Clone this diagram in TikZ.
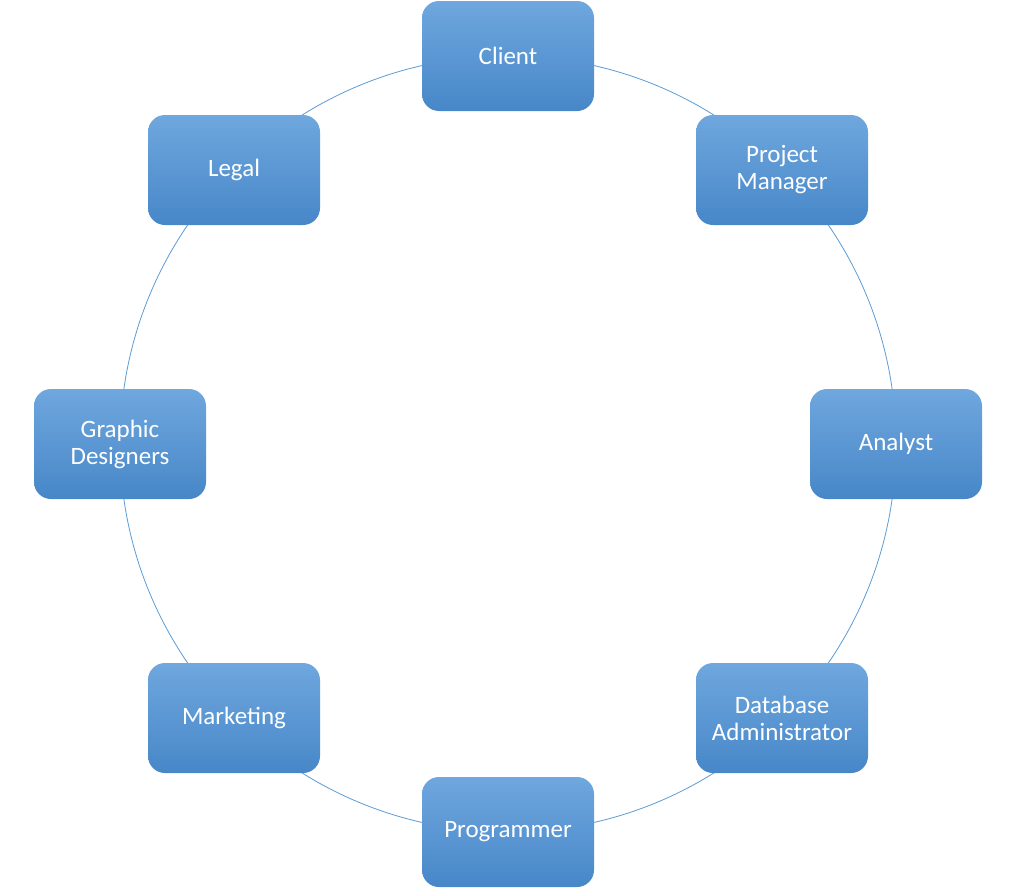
\documentclass[tikz,border=0pt]{standalone}
\usepackage{fontspec}
\setmainfont{Carlito}
\definecolor{boxtop}{HTML}{6FA7DE}
\definecolor{boxbot}{HTML}{4787C8}
\definecolor{ring}{HTML}{5B9BD5}
\begin{document}
\begin{tikzpicture}[x=1pt,y=-1pt,
  rolebox/.style={rectangle, rounded corners=17pt, minimum width=172pt, minimum height=110pt,
    top color=boxtop, bottom color=boxbot, draw=none, text=white, align=center,
    font=\fontsize{25}{27}\selectfont, inner sep=0pt},
  ring/.style={draw=ring, line width=0.8pt}]
\useasboundingbox (0,0) rectangle (1015,889);
\coordinate (ctr) at (508,444);
\draw[ring] (ctr) circle[radius=388];
\node[rolebox] (client) at (508,56) {Client};
\node[rolebox] (pm) at (782,170) {Project\\Manager};
\node[rolebox] (analyst) at (896,444) {Analyst};
\node[rolebox] (dba) at (782,718) {Database\\Administrator};
\node[rolebox] (prog) at (508,832) {Programmer};
\node[rolebox] (mkt) at (234,718) {Marketing};
\node[rolebox] (gd) at (120,444) {Graphic\\Designers};
\node[rolebox] (legal) at (234,170) {Legal};
\end{tikzpicture}
\end{document}
